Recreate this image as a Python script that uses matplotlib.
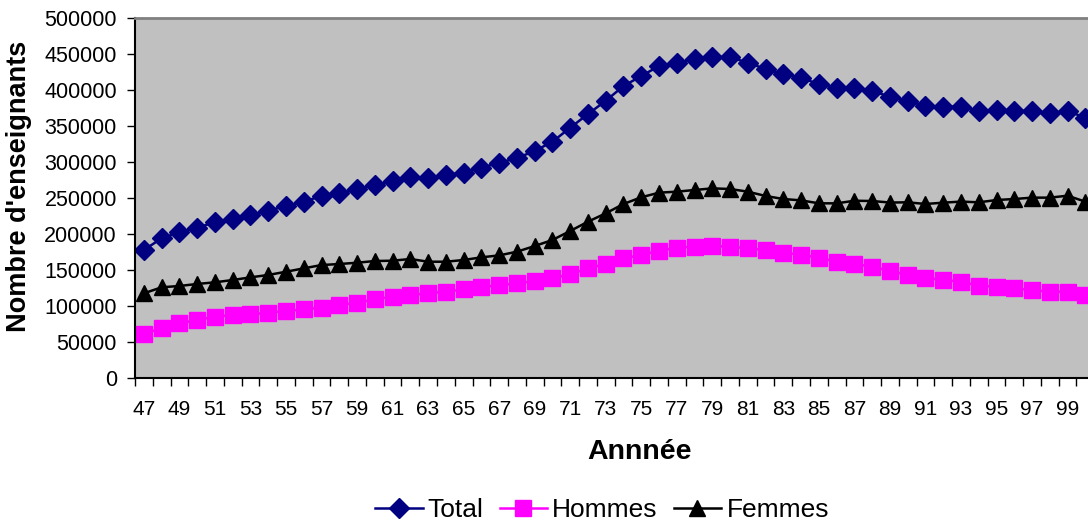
import numpy as np
import matplotlib.pyplot as plt
from matplotlib.ticker import FixedLocator, NullFormatter

plt.rcParams['font.family'] = ['Liberation Sans', 'DejaVu Sans']

# Années 1947 -> 2000 (notées sur deux chiffres, 100 = 2000)
annees = list(range(47, 101))

total = [177800, 194000, 202300, 208800, 216200, 220400, 226400, 232400, 238900, 244900,
         252800, 256500, 262000, 268000, 273600, 279600, 277400, 282000, 285200, 292100,
         298800, 305500, 315300, 328200, 347600, 366600, 385000, 405500, 419400, 433300,
         438000, 442600, 445800, 445400, 438000, 429000, 422000, 417000, 408000, 403000,
         403000, 398600, 390700, 384700, 377800, 376800, 376800, 370800, 372200, 370800,
         370800, 367600, 370800, 361500]

hommes = [60600, 69900, 75900, 80600, 85200, 87500, 88400, 90700, 93000, 95400,
          97700, 101400, 104600, 109300, 112900, 115300, 117600, 119900, 123100, 126800,
          128500, 131500, 134700, 138400, 144000, 152300, 158300, 166200, 170800, 176800,
          181000, 182400, 183300, 182400, 180100, 177800, 174000, 171300, 167100, 161500,
          158300, 154600, 148800, 143100, 139300, 136100, 133800, 128200, 126800, 124600,
          122200, 119900, 119900, 115300]

femmes = [117600, 126000, 127800, 130600, 132900, 136100, 139800, 143100, 147600, 152300,
          156900, 158300, 160100, 162500, 162900, 165300, 161500, 161500, 163900, 167600,
          170300, 175400, 183300, 191700, 204200, 217100, 228700, 241700, 251000, 257400,
          258800, 261100, 263400, 262500, 258800, 252800, 248600, 246700, 242600, 242600,
          246200, 245800, 243700, 244000, 241700, 243500, 245000, 244000, 247200, 248600,
          250500, 250500, 253200, 244900]

fig = plt.figure(figsize=(10.88, 5.25), dpi=100)
ax = fig.add_axes([135 / 1088, 1 - 378 / 525, 977 / 1088, 360 / 525])
ax.set_facecolor('#C0C0C0')

ax.plot(annees, total, color='#000080', lw=1.8, marker='D', ms=10, label='Total')
ax.plot(annees, hommes, color='#FF00FF', lw=1.8, marker='s', ms=11, label='Hommes')
ax.plot(annees, femmes, color='black', lw=1.8, marker='^', ms=11, label='Femmes')

ax.set_xlim(46.5, 101.5)
ax.set_ylim(0, 500000)
ax.set_yticks(np.arange(0, 500001, 50000))

# graduations entre les catégories, étiquettes une année sur deux
ax.xaxis.set_major_locator(FixedLocator(np.arange(46.5, 102, 1)))
ax.xaxis.set_major_formatter(NullFormatter())
ax.xaxis.set_minor_locator(FixedLocator(range(47, 101, 2)))
ax.set_xticklabels([str(a) for a in range(47, 101, 2)], minor=True)
ax.tick_params(axis='x', which='major', length=6, width=1, direction='out')
ax.tick_params(axis='x', which='minor', length=0, pad=16, labelsize=15)
ax.tick_params(axis='y', length=6, width=1, labelsize=15.5, pad=7)

for s in ['left', 'bottom']:
    ax.spines[s].set_color('black')
    ax.spines[s].set_linewidth(1.5)
for s in ['top', 'right']:
    ax.spines[s].set_color('#808080')
    ax.spines[s].set_linewidth(2)

fig.text(19 / 1088, 1 - 186 / 525, "Nombre d'enseignants", rotation=90,
         ha='center', va='center', fontsize=19.5, fontweight='bold')
fig.text(640 / 1088, 1 - 452 / 525, 'Annnée', ha='center', va='center',
         fontsize=20.5, fontweight='bold')

fig.legend(loc='center', bbox_to_anchor=(602 / 1088, 1 - 510 / 525), ncol=3,
           frameon=False, fontsize=19, handlelength=1.8, handletextpad=0.2,
           columnspacing=0.6, borderaxespad=0)

fig.savefig('out.png', dpi=100)
